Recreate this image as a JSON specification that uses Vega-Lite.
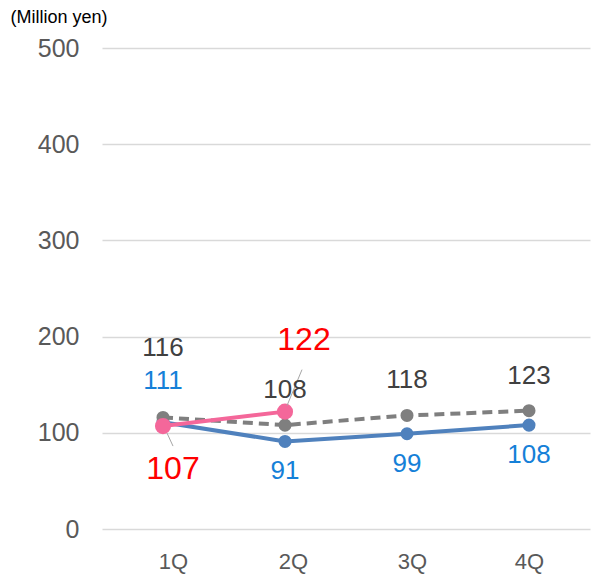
{
  "$schema": "https://vega.github.io/schema/vega-lite/v6.json",
  "width": 488,
  "height": 481,
  "autosize": "none",
  "padding": {"left": 102, "top": 48, "right": 5, "bottom": 55},
  "config": {"font": "Liberation Sans", "view": {"stroke": null}},
  "data": {
    "values": [
      {"q": "1Q", "series": "prev", "value": 116},
      {"q": "2Q", "series": "prev", "value": 108},
      {"q": "3Q", "series": "prev", "value": 118},
      {"q": "4Q", "series": "prev", "value": 123},
      {"q": "1Q", "series": "plan", "value": 111},
      {"q": "2Q", "series": "plan", "value": 91},
      {"q": "3Q", "series": "plan", "value": 99},
      {"q": "4Q", "series": "plan", "value": 108},
      {"q": "1Q", "series": "actual", "value": 107},
      {"q": "2Q", "series": "actual", "value": 122}
    ]
  },
  "encoding": {
    "x": {
      "field": "q",
      "type": "ordinal",
      "sort": ["1Q", "2Q", "3Q", "4Q"],
      "scale": {"type": "point", "padding": 0.5},
      "axis": {
        "title": null,
        "domain": false,
        "ticks": false,
        "labelAngle": 0,
        "labelFontSize": 22,
        "labelColor": "#595959",
        "labelPadding": 22,
        "labelOffset": {
          "condition": [
            {"test": "datum.value == '1Q'", "value": 10},
            {"test": "datum.value == '2Q'", "value": 8},
            {"test": "datum.value == '3Q'", "value": 5}
          ],
          "value": 0
        }
      }
    },
    "y": {
      "field": "value",
      "type": "quantitative",
      "scale": {"domain": [0, 500], "nice": false},
      "axis": {
        "values": [0, 100, 200, 300, 400, 500],
        "domain": false,
        "ticks": false,
        "labelFontSize": 25,
        "labelColor": "#595959",
        "labelPadding": 23,
        "gridColor": "#d9d9d9",
        "gridWidth": 1.3,
        "title": "(Million yen)",
        "titleAngle": 0,
        "titleAlign": "left",
        "titleBaseline": "middle",
        "titleX": -92,
        "titleY": -31,
        "titleFontSize": 18,
        "titleFontWeight": "normal",
        "titleColor": "#000000"
      }
    }
  },
  "layer": [
    {
      "transform": [{"filter": "datum.series == 'plan'"}],
      "mark": {"type": "line", "color": "#4f81bd", "strokeWidth": 4}
    },
    {
      "transform": [{"filter": "datum.series == 'plan'"}],
      "mark": {"type": "point", "filled": true, "opacity": 1, "color": "#4f81bd", "size": 170}
    },
    {
      "transform": [{"filter": "datum.series == 'prev'"}],
      "mark": {"type": "line", "color": "#7f7f7f", "strokeWidth": 4, "strokeDash": [10, 6]}
    },
    {
      "transform": [{"filter": "datum.series == 'prev'"}],
      "mark": {"type": "point", "filled": true, "opacity": 1, "color": "#7f7f7f", "size": 170}
    },
    {
      "transform": [{"filter": "datum.series == 'actual'"}],
      "mark": {"type": "line", "color": "#f4679a", "strokeWidth": 4}
    },
    {
      "transform": [{"filter": "datum.series == 'actual'"}],
      "mark": {"type": "point", "filled": true, "opacity": 1, "color": "#f4679a", "size": 260}
    },
    {
      "transform": [{"filter": "datum.series == 'actual' && datum.q == '1Q'"}],
      "mark": {"type": "rule", "color": "#a6a6a6", "strokeWidth": 1, "xOffset": 4, "yOffset": 7, "x2Offset": 10, "y2Offset": 20},
      "encoding": {"x2": {"field": "q"}, "y2": {"field": "value"}}
    },
    {
      "transform": [{"filter": "datum.series == 'actual' && datum.q == '2Q'"}],
      "mark": {"type": "rule", "color": "#a6a6a6", "strokeWidth": 1, "xOffset": 17, "yOffset": -42, "x2Offset": 2, "y2Offset": -6},
      "encoding": {"x2": {"field": "q"}, "y2": {"field": "value"}}
    },
    {
      "transform": [{"filter": "datum.series == 'prev' && datum.q != '1Q'"}],
      "mark": {"type": "text", "fontSize": 26, "color": "#404040", "dy": -35, "baseline": "middle"},
      "encoding": {"text": {"field": "value"}}
    },
    {
      "transform": [{"filter": "datum.series == 'prev' && datum.q == '1Q'"}],
      "mark": {"type": "text", "fontSize": 26, "color": "#404040", "dy": -69, "baseline": "middle"},
      "encoding": {"text": {"field": "value"}}
    },
    {
      "transform": [{"filter": "datum.series == 'plan' && datum.q != '1Q'"}],
      "mark": {"type": "text", "fontSize": 26, "color": "#1580d8", "dy": 30, "baseline": "middle"},
      "encoding": {"text": {"field": "value"}}
    },
    {
      "transform": [{"filter": "datum.series == 'plan' && datum.q == '1Q'"}],
      "mark": {"type": "text", "fontSize": 26, "color": "#1580d8", "dy": -41, "baseline": "middle"},
      "encoding": {"text": {"field": "value"}}
    },
    {
      "transform": [{"filter": "datum.series == 'actual' && datum.q == '1Q'"}],
      "mark": {"type": "text", "fontSize": 32, "color": "#ff0000", "dx": 10, "dy": 43, "baseline": "middle"},
      "encoding": {"text": {"field": "value"}}
    },
    {
      "transform": [{"filter": "datum.series == 'actual' && datum.q == '2Q'"}],
      "mark": {"type": "text", "fontSize": 32, "color": "#ff0000", "dx": 19, "dy": -72, "baseline": "middle"},
      "encoding": {"text": {"field": "value"}}
    }
  ]
}
